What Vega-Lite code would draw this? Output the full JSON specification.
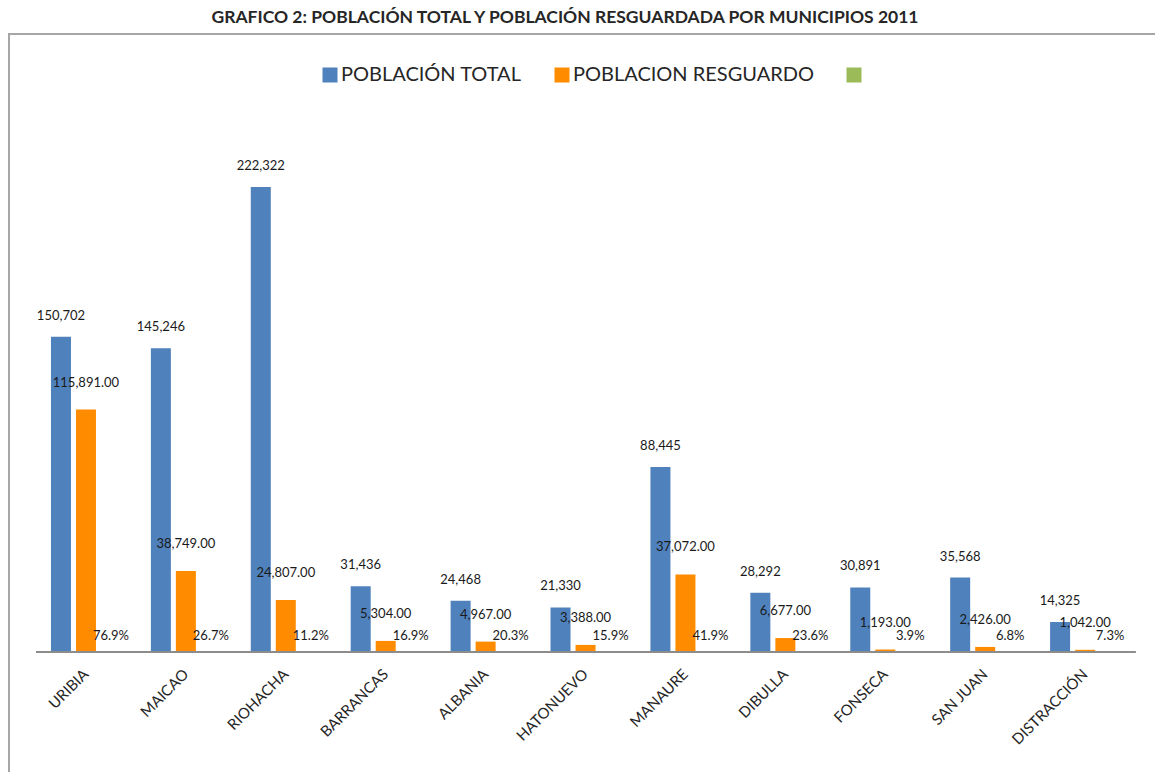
{
  "$schema": "https://vega.github.io/schema/vega-lite/v6.json",
  "width": 1150,
  "height": 745,
  "autosize": "none",
  "padding": {"left": 9, "top": 34, "right": 0, "bottom": 0},
  "background": "white",
  "config": {"view": {"stroke": "#a6a6a6", "strokeWidth": 2}},
  "title": {
    "text": "GRAFICO 2: POBLACIÓN TOTAL Y POBLACIÓN RESGUARDADA POR MUNICIPIOS 2011",
    "font": "Lato",
    "fontSize": 17.5,
    "fontWeight": "bold",
    "color": "#262626",
    "anchor": "middle",
    "frame": "group",
    "baseline": "bottom",
    "dx": -19,
    "offset": -10
  },
  "data": {
    "values": [
      {"municipio": "URIBIA", "serie": "POBLACIÓN TOTAL", "valor": 150702},
      {"municipio": "URIBIA", "serie": "POBLACION RESGUARDO", "valor": 115891},
      {"municipio": "URIBIA", "serie": "PORCENTAJE", "valor": 0.769},
      {"municipio": "MAICAO", "serie": "POBLACIÓN TOTAL", "valor": 145246},
      {"municipio": "MAICAO", "serie": "POBLACION RESGUARDO", "valor": 38749},
      {"municipio": "MAICAO", "serie": "PORCENTAJE", "valor": 0.267},
      {"municipio": "RIOHACHA", "serie": "POBLACIÓN TOTAL", "valor": 222322},
      {"municipio": "RIOHACHA", "serie": "POBLACION RESGUARDO", "valor": 24807},
      {"municipio": "RIOHACHA", "serie": "PORCENTAJE", "valor": 0.112},
      {"municipio": "BARRANCAS", "serie": "POBLACIÓN TOTAL", "valor": 31436},
      {"municipio": "BARRANCAS", "serie": "POBLACION RESGUARDO", "valor": 5304},
      {"municipio": "BARRANCAS", "serie": "PORCENTAJE", "valor": 0.169},
      {"municipio": "ALBANIA", "serie": "POBLACIÓN TOTAL", "valor": 24468},
      {"municipio": "ALBANIA", "serie": "POBLACION RESGUARDO", "valor": 4967},
      {"municipio": "ALBANIA", "serie": "PORCENTAJE", "valor": 0.203},
      {"municipio": "HATONUEVO", "serie": "POBLACIÓN TOTAL", "valor": 21330},
      {"municipio": "HATONUEVO", "serie": "POBLACION RESGUARDO", "valor": 3388},
      {"municipio": "HATONUEVO", "serie": "PORCENTAJE", "valor": 0.159},
      {"municipio": "MANAURE", "serie": "POBLACIÓN TOTAL", "valor": 88445},
      {"municipio": "MANAURE", "serie": "POBLACION RESGUARDO", "valor": 37072},
      {"municipio": "MANAURE", "serie": "PORCENTAJE", "valor": 0.419},
      {"municipio": "DIBULLA", "serie": "POBLACIÓN TOTAL", "valor": 28292},
      {"municipio": "DIBULLA", "serie": "POBLACION RESGUARDO", "valor": 6677},
      {"municipio": "DIBULLA", "serie": "PORCENTAJE", "valor": 0.236},
      {"municipio": "FONSECA", "serie": "POBLACIÓN TOTAL", "valor": 30891},
      {"municipio": "FONSECA", "serie": "POBLACION RESGUARDO", "valor": 1193},
      {"municipio": "FONSECA", "serie": "PORCENTAJE", "valor": 0.039},
      {"municipio": "SAN JUAN", "serie": "POBLACIÓN TOTAL", "valor": 35568},
      {"municipio": "SAN JUAN", "serie": "POBLACION RESGUARDO", "valor": 2426},
      {"municipio": "SAN JUAN", "serie": "PORCENTAJE", "valor": 0.068},
      {"municipio": "DISTRACCIÓN", "serie": "POBLACIÓN TOTAL", "valor": 14325},
      {"municipio": "DISTRACCIÓN", "serie": "POBLACION RESGUARDO", "valor": 1042},
      {"municipio": "DISTRACCIÓN", "serie": "PORCENTAJE", "valor": 0.073}
    ]
  },
  "transform": [
    {
      "calculate": "datum.serie == 'POBLACIÓN TOTAL' ? format(datum.valor, ',.0f') : (datum.serie == 'POBLACION RESGUARDO' ? format(datum.valor, ',.2f') : format(datum.valor, '.1%'))",
      "as": "etiqueta"
    }
  ],
  "encoding": {
    "x": {
      "field": "municipio",
      "type": "nominal",
      "title": null,
      "axis": null,
      "scale": {
        "domain": ["URIBIA", "MAICAO", "RIOHACHA", "BARRANCAS", "ALBANIA", "HATONUEVO", "MANAURE", "DIBULLA", "FONSECA", "SAN JUAN", "DISTRACCIÓN"],
        "paddingInner": 0,
        "paddingOuter": 0.255,
        "align": 0.53
      }
    }
  },
  "resolve": {"scale": {"y": "shared"}},
  "layer": [
    {
      "mark": {"type": "bar"},
      "encoding": {
        "xOffset": {
          "field": "serie",
          "type": "nominal",
          "scale": {
            "domain": ["POBLACIÓN TOTAL", "POBLACION RESGUARDO", "PORCENTAJE"],
            "paddingInner": 0.2,
            "paddingOuter": 0.598
          }
        },
        "y": {
          "field": "valor",
          "type": "quantitative",
          "scale": {"domain": [-60719, 295468], "nice": false, "zero": false},
          "axis": null
        },
        "y2": {"datum": 0},
        "color": {
          "field": "serie",
          "type": "nominal",
          "scale": {
            "domain": ["POBLACIÓN TOTAL", "POBLACION RESGUARDO", "PORCENTAJE"],
            "range": ["#4F81BD", "#FF8C00", "#9BBB59"]
          },
          "legend": {
            "orient": "none",
            "legendX": 311,
            "legendY": 31,
            "padding": 0,
            "direction": "horizontal",
            "title": null,
            "symbolType": "square",
            "symbolSize": 225,
            "symbolStrokeWidth": 0,
            "labelFont": "Lato",
            "labelFontSize": 20,
            "labelColor": "#262626",
            "labelOffset": 1,
            "labelLimit": 400,
            "columnPadding": 30,
            "labelExpr": "datum.value == 'PORCENTAJE' ? '' : datum.label"
          }
        }
      }
    },
    {
      "transform": [{"filter": "datum.serie == 'POBLACIÓN TOTAL'"}],
      "mark": {"type": "text", "dy": -21, "baseline": "middle", "font": "Lato", "fontSize": 13, "color": "#1a1a1a"},
      "encoding": {
        "xOffset": {"field": "serie", "type": "nominal"},
        "y": {"field": "valor", "type": "quantitative"},
        "text": {"field": "etiqueta", "type": "nominal"}
      }
    },
    {
      "transform": [{"filter": "datum.serie == 'POBLACION RESGUARDO'"}],
      "mark": {"type": "text", "dy": -27, "baseline": "middle", "font": "Lato", "fontSize": 13, "color": "#1a1a1a"},
      "encoding": {
        "xOffset": {"field": "serie", "type": "nominal"},
        "y": {"field": "valor", "type": "quantitative"},
        "text": {"field": "etiqueta", "type": "nominal"}
      }
    },
    {
      "transform": [{"filter": "datum.serie == 'PORCENTAJE'"}],
      "mark": {"type": "text", "dy": -16, "baseline": "middle", "font": "Lato", "fontSize": 13, "color": "#1a1a1a"},
      "encoding": {
        "xOffset": {"field": "serie", "type": "nominal"},
        "y": {"field": "valor", "type": "quantitative"},
        "text": {"field": "etiqueta", "type": "nominal"}
      }
    },
    {
      "transform": [{"filter": "datum.serie == 'POBLACIÓN TOTAL'"}],
      "mark": {"type": "text", "angle": -45, "align": "right", "baseline": "middle", "dx": -14, "dy": 14, "font": "Lato", "fontSize": 15, "color": "#262626"},
      "encoding": {
        "y": {"datum": 0},
        "text": {"field": "municipio", "type": "nominal"}
      }
    },
    {
      "mark": {"type": "rule", "color": "#8c8c8c", "strokeWidth": 2},
      "encoding": {
        "x": {"datum": "URIBIA", "type": "nominal", "bandPosition": 0},
        "x2": {"datum": "DISTRACCIÓN", "bandPosition": 1},
        "y": {"datum": 0}
      }
    }
  ]
}
